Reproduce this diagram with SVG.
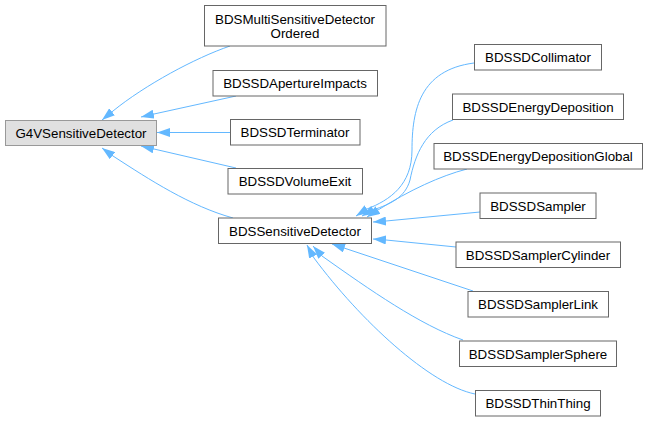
<svg xmlns="http://www.w3.org/2000/svg" width="648" height="421" viewBox="0 0 648 421">
<defs>
<marker id="arr" viewBox="0 0 13 9" refX="13" refY="4.5" markerWidth="13" markerHeight="9" markerUnits="userSpaceOnUse" orient="auto">
<path d="M0,0 L13,4.5 L0,9 z" fill="#63b8ff"/>
</marker>
<style>
.n rect{fill:#ffffff;stroke:#666666;stroke-width:1}
.n.cur rect{fill:#e0e0e0;stroke:#999999}
.n text{font-family:"Liberation Sans",Arial,sans-serif;font-size:13.33px;fill:#000000;text-anchor:middle}
.e path{fill:none;stroke:#63b8ff;stroke-width:1;marker-end:url(#arr)}
</style>
</defs>
<rect width="648" height="421" fill="#ffffff"/>
<g id="connectors" class="e">
<path d="M230,46 C195,58 145,85 113,111 L102,120"/>
<path d="M236,96 L154,114 L141,117"/>
<path d="M230,132.5 L157,132.5"/>
<path d="M236,168 L154,149 L141,146"/>
<path d="M233,218 C190,206 150,180 113,156 L102,148"/>
<path d="M474,63 C420,70 412,110 412,150 C412,185 390,200 367,209 L356,216"/>
<path d="M453,120 C425,130 415,155 410,180 C405,198 390,204 373,210 L362,216"/>
<path d="M467,169 C440,176 410,190 378,210 L367,217"/>
<path d="M480,212 L386,221 L373,222"/>
<path d="M456,247 L386,240 L373,239"/>
<path d="M473,291 L344,248 L332,244"/>
<path d="M463,340 C420,325 370,290 322,256 L313,246"/>
<path d="M475,394 C430,385 360,320 314,258 L307,245"/>
</g>
<g id="G4VSensitiveDetector" class="n cur"><rect x="5.5" y="120.5" width="151" height="25"/><text x="81" y="137.5">G4VSensitiveDetector</text></g>
<g id="BDSMultiSensitiveDetectorOrdered" class="n"><rect x="204.5" y="5.5" width="181.5" height="40.5"/><text x="295" y="23.5">BDSMultiSensitiveDetector</text><text x="295" y="38">Ordered</text></g>
<g id="BDSSDApertureImpacts" class="n"><rect x="213" y="70.5" width="164.5" height="25.5"/><text x="295" y="88">BDSSDApertureImpacts</text></g>
<g id="BDSSDTerminator" class="n"><rect x="230.5" y="119.5" width="129.5" height="25.5"/><text x="295" y="137">BDSSDTerminator</text></g>
<g id="BDSSDVolumeExit" class="n"><rect x="228" y="168.5" width="134.5" height="25.5"/><text x="295" y="186">BDSSDVolumeExit</text></g>
<g id="BDSSensitiveDetector" class="n"><rect x="218.5" y="218" width="153" height="25.5"/><text x="295" y="235.5">BDSSensitiveDetector</text></g>
<g id="BDSSDCollimator" class="n"><rect x="474.5" y="44.5" width="127" height="25.5"/><text x="538" y="62">BDSSDCollimator</text></g>
<g id="BDSSDEnergyDeposition" class="n"><rect x="452.5" y="94" width="171" height="25.5"/><text x="538" y="111.5">BDSSDEnergyDeposition</text></g>
<g id="BDSSDEnergyDepositionGlobal" class="n"><rect x="434" y="143.5" width="208.5" height="25.5"/><text x="538" y="161">BDSSDEnergyDepositionGlobal</text></g>
<g id="BDSSDSampler" class="n"><rect x="480" y="193" width="116" height="25.5"/><text x="538" y="210.5">BDSSDSampler</text></g>
<g id="BDSSDSamplerCylinder" class="n"><rect x="456" y="242" width="164.5" height="25.5"/><text x="538" y="259.5">BDSSDSamplerCylinder</text></g>
<g id="BDSSDSamplerLink" class="n"><rect x="468" y="291.5" width="140.5" height="25.5"/><text x="538" y="309">BDSSDSamplerLink</text></g>
<g id="BDSSDSamplerSphere" class="n"><rect x="459.5" y="341" width="157" height="25.5"/><text x="538" y="358.5">BDSSDSamplerSphere</text></g>
<g id="BDSSDThinThing" class="n"><rect x="475.5" y="390.5" width="125" height="25.5"/><text x="538" y="408">BDSSDThinThing</text></g>
</svg>
